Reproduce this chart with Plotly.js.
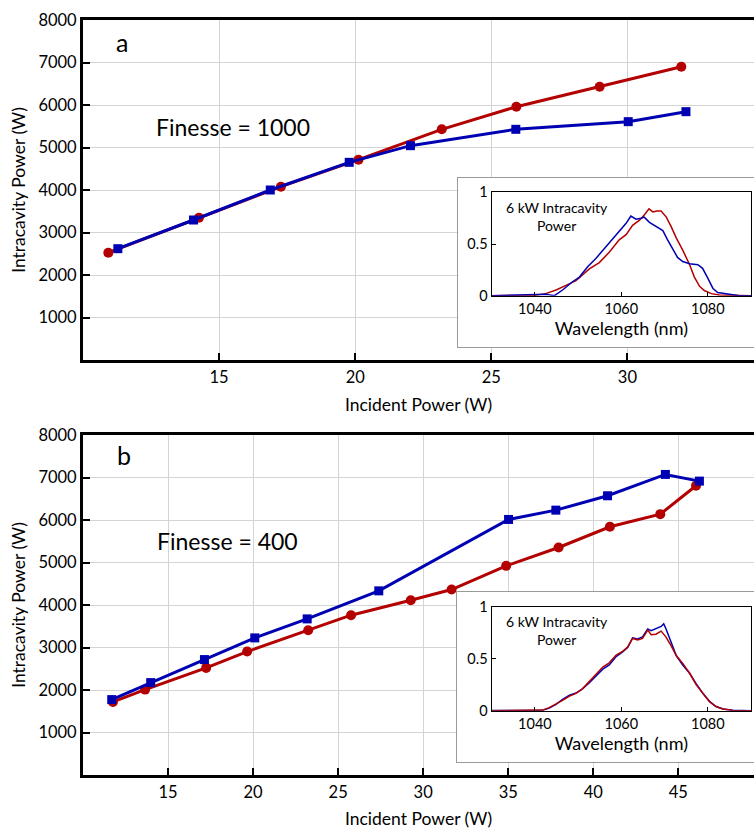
<!DOCTYPE html>
<html><head><meta charset="utf-8">
<script src="https://cdn.plot.ly/plotly-3.0.1.min.js"></script>
<style>html,body{margin:0;padding:0;background:#fff;overflow:hidden}#chart{width:754px;height:829px}</style>
</head><body><div id="chart"></div><script>
// ---- Panel a (Finesse = 1000) ----
const a_red_x = [10.93, 14.26, 17.27, 20.12, 23.18, 25.92, 28.98, 31.98];
const a_red_y = [2525, 3348, 4078, 4713, 5428, 5960, 6431, 6901];
const a_blue_x = [11.28, 14.06, 16.88, 19.78, 22.03, 25.9, 30.03, 32.15];
const a_blue_y = [2619, 3294, 4000, 4651, 5043, 5428, 5608, 5843];
// ---- Panel b (Finesse = 400) ----
const b_red_x = [11.76, 13.65, 17.24, 19.65, 23.24, 25.76, 29.27, 31.67, 34.88, 37.96, 40.98, 43.94, 46.04];
const b_red_y = [1719, 2009, 2520, 2904, 3407, 3760, 4113, 4364, 4921, 5353, 5840, 6138, 6805];
const b_blue_x = [11.69, 13.98, 17.14, 20.1, 23.18, 27.39, 35.02, 37.8, 40.84, 44.24, 46.24];
const b_blue_y = [1774, 2174, 2716, 3226, 3673, 4333, 6013, 6232, 6570, 7072, 6915];
// ---- Inset spectra a ----
const a_blue_wl = [1030,1034,1038,1040,1042.5,1043.5,1044.5,1046.4,1048.7,1050.3,1052.2,1054.1,1056.1,1058,1059.9,1061.1,1062.2,1063.4,1064.6,1065.3,1066.5,1068,1069.6,1070.7,1071.9,1073,1074.2,1075.8,1077.7,1078.8,1080,1081.2,1082.3,1083.9,1085.4,1087,1090];
const a_blue_val = [0,0.005,0.006,0.01,0.015,0.008,0,0.055,0.135,0.18,0.28,0.36,0.46,0.555,0.64,0.70,0.77,0.74,0.75,0.76,0.71,0.67,0.63,0.54,0.45,0.37,0.33,0.31,0.30,0.265,0.17,0.07,0.03,0.02,0.006,0.002,0];
const a_red_wl = [1030,1038,1040,1042.5,1044.9,1047.2,1049.5,1051,1052.6,1054.9,1057.2,1059.5,1061.1,1062.6,1064.2,1065.3,1066.4,1067.3,1068.2,1069.2,1070.4,1071.5,1072.7,1074.2,1075.8,1076.9,1078.1,1079.2,1080.8,1082.7,1090];
const a_red_val = [0,0,0.003,0.02,0.055,0.10,0.145,0.20,0.26,0.32,0.42,0.54,0.59,0.68,0.73,0.78,0.84,0.81,0.82,0.82,0.76,0.67,0.56,0.44,0.30,0.18,0.09,0.05,0.02,0.006,0];
// ---- Inset spectra b ----
const b_red_wl = [1030,1040,1041.8,1043.3,1044.9,1046.4,1048,1049.5,1051,1052.6,1054.1,1055.7,1057.2,1058.8,1060.3,1061.5,1062.6,1063.8,1064.9,1066.1,1066.9,1068,1069.2,1070.3,1071.5,1072.7,1074.2,1075.8,1077.3,1078.8,1080.4,1081.9,1083.5,1085.8,1090];
const b_red_val = [0,0,0.006,0.03,0.064,0.10,0.14,0.167,0.21,0.28,0.34,0.42,0.46,0.535,0.57,0.615,0.695,0.68,0.695,0.775,0.73,0.735,0.765,0.71,0.625,0.53,0.455,0.36,0.25,0.167,0.087,0.04,0.016,0.003,0];
const b_blue_wl = [1030,1040,1041.8,1043.3,1044.9,1046.4,1048,1049.5,1051,1052.6,1054.1,1055.7,1057.2,1058.8,1060.3,1061.5,1062.6,1063.8,1064.9,1066.1,1066.9,1068,1069.2,1069.8,1070.3,1071.5,1072.7,1074.2,1075.8,1077.3,1078.8,1080.4,1081.9,1083.5,1085.8,1090];
const b_blue_val = [0.002,0.003,0.005,0.025,0.06,0.11,0.15,0.17,0.21,0.27,0.33,0.40,0.44,0.52,0.565,0.61,0.70,0.69,0.71,0.785,0.77,0.79,0.81,0.835,0.79,0.66,0.53,0.44,0.36,0.26,0.17,0.09,0.04,0.016,0.004,0];
// ---- Ticks / labels ----
const a_xticks = [15, 20, 25, 30];
const b_xticks = [15, 20, 25, 30, 35, 40, 45];
const main_yticks = [1000, 2000, 3000, 4000, 5000, 6000, 7000, 8000];
const inset_xticks = [1040, 1060, 1080];
const inset_yticks = [0, 0.5, 1];
const inset_yticktext = ['0', '0.5', '1'];

const FONT = 'Lato, "Open Sans", sans-serif';
const RED = '#b30000', BLUE = '#0000b3';
const W = 754, H = 829;
const px = v => v / W, py = v => 1 - v / H;

function mainX(dom, range, ticks, anchor) {
  return {domain: dom, range: range, anchor: anchor, tickvals: ticks, ticks: 'inside', ticklen: 7, tickwidth: 2,
    tickcolor: '#000', showline: true, linewidth: 3, linecolor: '#000', mirror: true, showgrid: true,
    gridcolor: '#d4d4d4', gridwidth: 1, zeroline: false, tickfont: {size: 16.5, family: FONT},
    title: {text: 'Incident Power (W)', font: {size: 17.5, family: FONT}, standoff: 13}};
}
function mainY(dom, anchor) {
  return {domain: dom, range: [0, 8000], anchor: anchor, tickvals: main_yticks, ticks: 'inside', ticklen: 7, tickwidth: 2,
    tickcolor: '#000', showline: true, linewidth: 3, linecolor: '#000', mirror: false, showgrid: true,
    gridcolor: '#d4d4d4', gridwidth: 1, zeroline: false, tickfont: {size: 16.5, family: FONT},
    title: {text: 'Intracavity Power (W)', font: {size: 17.5, family: FONT}, standoff: 9}};
}
function frameX(dom, anchor) {
  return {domain: dom, range: [0, 1], anchor: anchor, showline: true, mirror: true, linecolor: '#9a9a9a', linewidth: 1,
    showgrid: false, zeroline: false, showticklabels: false, ticks: '', fixedrange: true};
}
function frameY(dom, anchor) {
  return {domain: dom, range: [0, 1], anchor: anchor, showline: true, mirror: false, linecolor: '#9a9a9a', linewidth: 1,
    showgrid: false, zeroline: false, showticklabels: false, ticks: '', fixedrange: true};
}
function insetX(dom, anchor) {
  return {domain: dom, range: [1030, 1090], anchor: anchor, tickvals: inset_xticks, ticks: 'inside', ticklen: 4, tickwidth: 1,
    tickcolor: '#000', showline: true, mirror: true, linecolor: '#000', linewidth: 1.2, showgrid: false, zeroline: false,
    tickfont: {size: 14.5, family: FONT}, title: {text: 'Wavelength (nm)', font: {size: 18, family: FONT}, standoff: 6}};
}
function insetY(dom, anchor) {
  return {domain: dom, range: [0, 1], anchor: anchor, tickvals: inset_yticks, ticktext: inset_yticktext, ticks: 'inside',
    ticklen: 4, tickwidth: 1, tickcolor: '#000', showline: true, mirror: true, linecolor: '#000', linewidth: 1.2,
    showgrid: false, zeroline: false, tickfont: {size: 14.5, family: FONT}};
}

const mainLine = (x, y, color, sym, size, xa, ya) => ({x: x, y: y, xaxis: xa, yaxis: ya, type: 'scatter', mode: 'lines+markers',
  line: {color: color, width: 3}, marker: {color: color, symbol: sym, size: size}, hoverinfo: 'skip'});
const specLine = (x, y, color, xa, ya) => ({x: x, y: y, xaxis: xa, yaxis: ya, type: 'scatter', mode: 'lines',
  line: {color: color, width: 1.5}, hoverinfo: 'skip'});

const data = [
  mainLine(a_red_x, a_red_y, RED, 'circle', 10, 'x', 'y'),
  mainLine(a_blue_x, a_blue_y, BLUE, 'square', 9, 'x', 'y'),
  mainLine(b_red_x, b_red_y, RED, 'circle', 10, 'x2', 'y2'),
  mainLine(b_blue_x, b_blue_y, BLUE, 'square', 9, 'x2', 'y2'),
  {x: [], y: [], xaxis: 'x3', yaxis: 'y3', type: 'scatter', hoverinfo: 'skip'},
  {x: [], y: [], xaxis: 'x4', yaxis: 'y4', type: 'scatter', hoverinfo: 'skip'},
  specLine(a_red_wl, a_red_val, RED, 'x5', 'y5'),
  specLine(a_blue_wl, a_blue_val, BLUE, 'x5', 'y5'),
  specLine(b_blue_wl, b_blue_val, BLUE, 'x6', 'y6'),
  specLine(b_red_wl, b_red_val, RED, 'x6', 'y6')
];

const ann = (text, x, y, size) => ({text: text, x: px(x), y: py(y), xref: 'paper', yref: 'paper', showarrow: false,
  xanchor: 'center', yanchor: 'middle', align: 'center', font: {size: size, family: FONT, color: '#000'}});

const layout = {
  width: W, height: H, margin: {l: 0, r: 0, t: 0, b: 0}, paper_bgcolor: '#fff', plot_bgcolor: '#fff',
  showlegend: false, font: {family: FONT, color: '#000', size: 16},
  xaxis: mainX([px(83), 1], [10, 34.65], a_xticks, 'y'),
  yaxis: mainY([py(360), py(20)], 'x'),
  xaxis2: mainX([px(83), 1], [10, 49.45], b_xticks, 'y2'),
  yaxis2: mainY([py(775), py(435)], 'x2'),
  xaxis3: frameX([px(458.3), 1], 'y3'),
  yaxis3: frameY([py(347.3), py(177.7)], 'x3'),
  xaxis4: frameX([px(457.3), 1], 'y4'),
  yaxis4: frameY([py(761.7), py(592.3)], 'x4'),
  xaxis5: insetX([px(491.7), px(751)], 'y5'),
  yaxis5: insetY([py(295.7), py(192.3)], 'x5'),
  xaxis6: insetX([px(491.7), px(751)], 'y6'),
  yaxis6: insetY([py(710.7), py(606.7)], 'x6'),
  annotations: [
    ann('a', 121.7, 42, 25),
    ann('Finesse = 1000', 233, 127, 23),
    ann('b', 124, 455, 25),
    ann('Finesse = 400', 227.5, 541, 23),
    ann('6 kW Intracavity<br>Power', 556.7, 216.5, 14),
    ann('6 kW Intracavity<br>Power', 556.7, 630.5, 14)
  ]
};

Plotly.newPlot('chart', data, layout, {staticPlot: true, displayModeBar: false});
</script></body></html>
